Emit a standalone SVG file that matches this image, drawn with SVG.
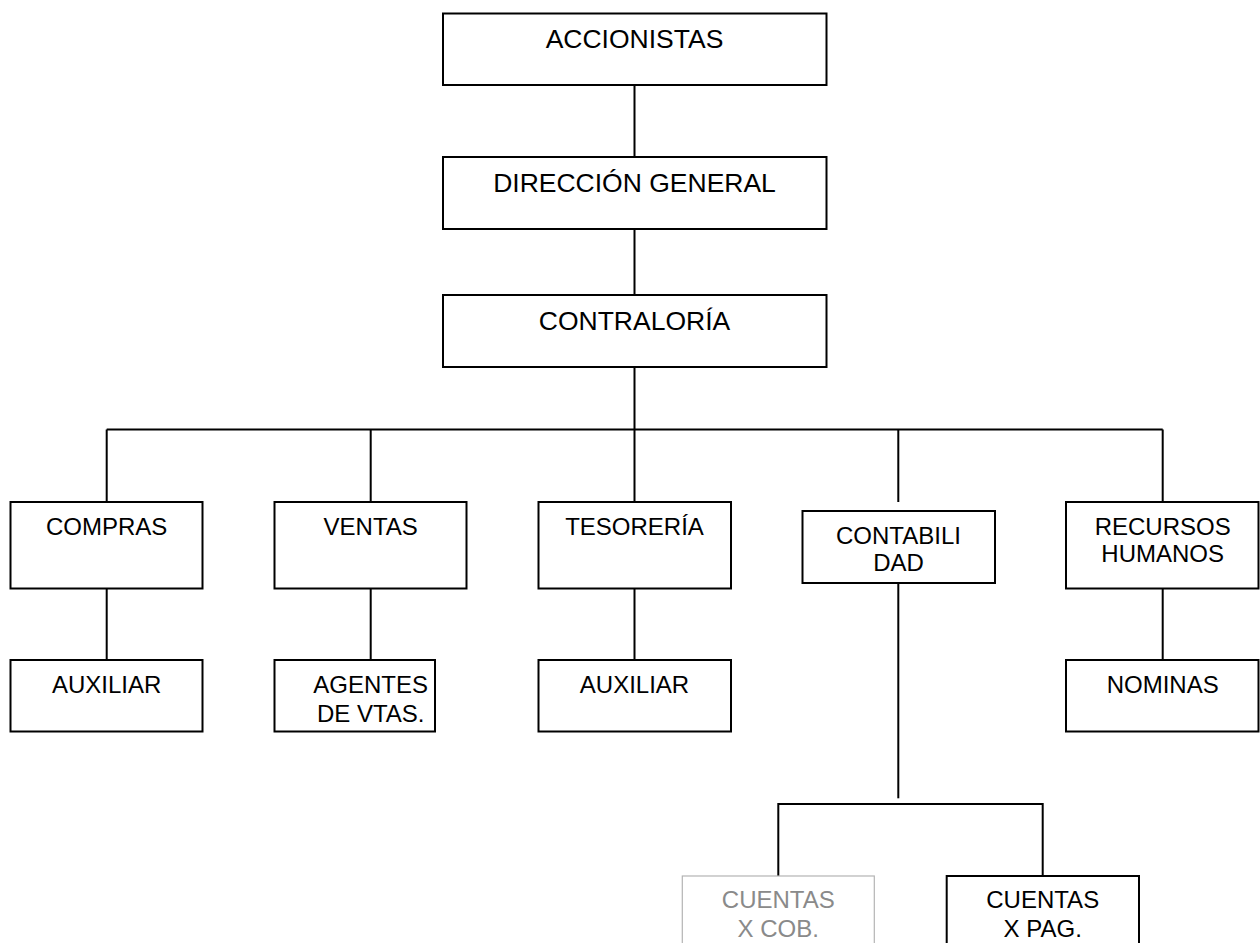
<svg xmlns="http://www.w3.org/2000/svg" width="1260" height="943" viewBox="0 0 1260 943">
  <style>
    .box { fill: #ffffff; stroke: #000000; stroke-width: 2; }
    .box-muted { fill: #ffffff; stroke: #b4b4b4; stroke-width: 1.2; }
    .link { fill: none; stroke: #000000; stroke-width: 2; }
    text { font-family: "Liberation Sans", Arial, sans-serif; fill: #000000; text-anchor: middle; }
    .t1 { font-size: 26.5px; }
    .t2 { font-size: 24px; }
    .muted { fill: #8a8a8a; }
  </style>
  <rect width="1260" height="943" fill="#ffffff"/>

  <!-- connectors -->
  <g id="connectors">
    <path class="link" d="M634.5 85 V157 M634.5 229 V295 M634.5 367 V502"/>
    <path class="link" d="M106.7 429.5 H1162.7"/>
    <path class="link" d="M106.7 429.5 V502 M370.7 429.5 V502 M898.3 429.5 V502 M1162.7 429.5 V502"/>
    <path class="link" d="M106.7 588 V660 M370.7 588 V660 M634.5 588 V660 M1162.7 588 V660"/>
    <path class="link" d="M898.3 583 V798.3"/>
    <path class="link" d="M778.3 876 V804 H1042.7 V876"/>
  </g>

  <!-- top chain -->
  <g id="accionistas">
    <rect class="box" x="443" y="13.5" width="383.5" height="71.5"/>
    <text class="t1" x="634.5" y="48">ACCIONISTAS</text>
  </g>
  <g id="direccion-general">
    <rect class="box" x="443" y="157" width="383.5" height="72"/>
    <text class="t1" x="634.5" y="191.7">DIRECCIÓN GENERAL</text>
  </g>
  <g id="contraloria">
    <rect class="box" x="443" y="295" width="383.5" height="72"/>
    <text class="t1" x="634.5" y="330">CONTRALORÍA</text>
  </g>

  <!-- departments -->
  <g id="compras">
    <rect class="box" x="10.5" y="502" width="192" height="86.5"/>
    <text class="t2" x="106.7" y="535">COMPRAS</text>
  </g>
  <g id="ventas">
    <rect class="box" x="274.5" y="502" width="192" height="86.5"/>
    <text class="t2" x="370.7" y="535">VENTAS</text>
  </g>
  <g id="tesoreria">
    <rect class="box" x="538.5" y="502" width="192.5" height="86.5"/>
    <text class="t2" x="634.5" y="535">TESORERÍA</text>
  </g>
  <g id="contabilidad">
    <rect class="box" x="802.5" y="511" width="192.5" height="72"/>
    <text class="t2" x="898.5" y="544">CONTABILI</text>
    <text class="t2" x="898.5" y="571">DAD</text>
  </g>
  <g id="recursos-humanos">
    <rect class="box" x="1066" y="502" width="192.5" height="86.5"/>
    <text class="t2" x="1162.7" y="535">RECURSOS</text>
    <text class="t2" x="1162.7" y="562.3">HUMANOS</text>
  </g>

  <!-- sub-units -->
  <g id="auxiliar-compras">
    <rect class="box" x="10.5" y="660" width="192" height="71.5"/>
    <text class="t2" x="106.7" y="693.3">AUXILIAR</text>
  </g>
  <g id="agentes-vtas">
    <rect class="box" x="274.5" y="660" width="160.5" height="71.5"/>
    <text class="t2" x="370.7" y="693.3">AGENTES</text>
    <text class="t2" x="370.7" y="721.7">DE VTAS.</text>
  </g>
  <g id="auxiliar-tesoreria">
    <rect class="box" x="538.5" y="660" width="192.5" height="71.5"/>
    <text class="t2" x="634.5" y="693.3">AUXILIAR</text>
  </g>
  <g id="nominas">
    <rect class="box" x="1066" y="660" width="192.5" height="71.5"/>
    <text class="t2" x="1162.7" y="693.3">NOMINAS</text>
  </g>
  <g id="cuentas-x-cob">
    <rect class="box-muted" x="682.3" y="876" width="192" height="80"/>
    <text class="t2 muted" x="778.3" y="908.3">CUENTAS</text>
    <text class="t2 muted" x="778.3" y="936.7">X COB.</text>
  </g>
  <g id="cuentas-x-pag">
    <rect class="box" x="946.7" y="876" width="192.3" height="80"/>
    <text class="t2" x="1042.7" y="908.3">CUENTAS</text>
    <text class="t2" x="1042.7" y="936.7">X PAG.</text>
  </g>
</svg>
